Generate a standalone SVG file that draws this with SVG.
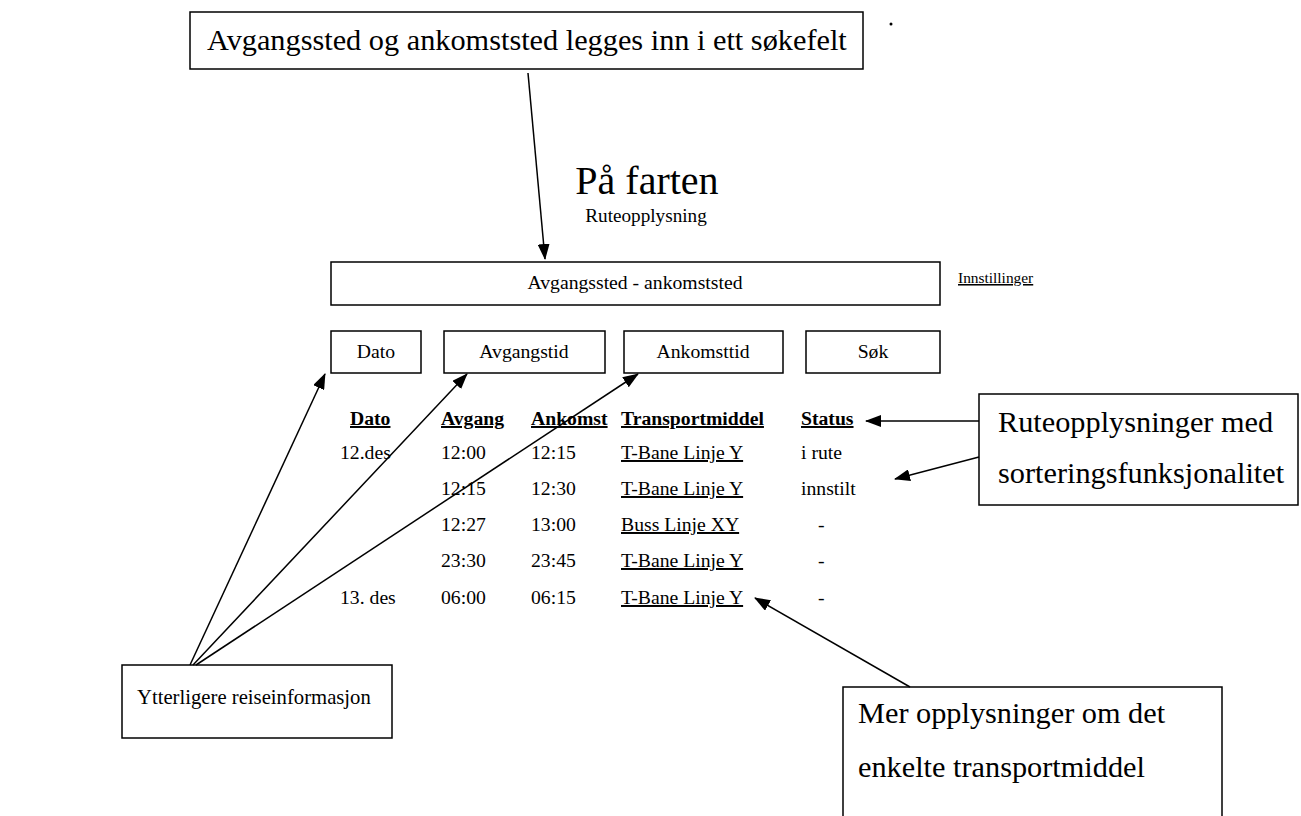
<svg xmlns="http://www.w3.org/2000/svg" width="1301" height="816" viewBox="0 0 1301 816">
<style>
.box{fill:#fff;stroke:#000;stroke-width:1.5}
.t{font-family:"Liberation Serif","Times New Roman",serif;fill:#000}
.big{font-size:30.3px}
.tb{font-size:19.7px}
.c{text-anchor:middle}
.b{font-weight:bold}
.u{text-decoration:underline}
.conn{stroke:#000;stroke-width:1.5;fill:none;marker-end:url(#ah)}
</style>
<defs>
<marker id="ah" markerUnits="userSpaceOnUse" markerWidth="16" markerHeight="12" refX="15" refY="6" orient="auto">
<path d="M0,0 L16,6 L0,12 Z" fill="#000"/>
</marker>
</defs>
<rect width="1301" height="816" fill="#fff"/>
<g id="note-top">
<rect class="box" x="190" y="12" width="673" height="57"/>
<text class="t big" x="207" y="50">Avgangssted og ankomststed legges inn i ett søkefelt</text>
</g>
<circle cx="891" cy="24" r="1.5" fill="#000"/>
<g id="title">
<text class="t c" x="647" y="194" font-size="40">På farten</text>
<text class="t c" x="646" y="222" font-size="19.2">Ruteopplysning</text>
</g>
<g id="searchfield">
<rect class="box" x="331" y="262" width="609" height="43"/>
<text class="t c tb" x="635" y="289">Avgangssted - ankomststed</text>
</g>
<g id="settings">
<text class="t u" x="958" y="283" font-size="15.4">Innstillinger</text>
</g>
<g id="btn-dato">
<rect class="box" x="331" y="331" width="90" height="42"/>
<text class="t c tb" x="376" y="358">Dato</text>
</g>
<g id="btn-avgangstid">
<rect class="box" x="444" y="331" width="161" height="42"/>
<text class="t c tb" x="524" y="358">Avgangstid</text>
</g>
<g id="btn-ankomsttid">
<rect class="box" x="624" y="331" width="159" height="42"/>
<text class="t c tb" x="703" y="358">Ankomsttid</text>
</g>
<g id="btn-sok">
<rect class="box" x="806" y="331" width="134" height="42"/>
<text class="t c tb" x="873" y="358">Søk</text>
</g>
<g id="table">
<text class="t tb b u" x="350" y="425">Dato</text>
<text class="t tb b u" x="441" y="425">Avgang</text>
<text class="t tb b u" x="531" y="425">Ankomst</text>
<text class="t tb b u" x="621" y="425">Transportmiddel</text>
<text class="t tb b u" x="801" y="425">Status</text>
<text class="t tb" x="340" y="459">12.des</text>
<text class="t tb" x="441" y="459">12:00</text>
<text class="t tb" x="531" y="459">12:15</text>
<text class="t tb u" x="621" y="459">T-Bane Linje Y</text>
<text class="t tb" x="801" y="459">i rute</text>
<text class="t tb" x="441" y="495">12:15</text>
<text class="t tb" x="531" y="495">12:30</text>
<text class="t tb u" x="621" y="495">T-Bane Linje Y</text>
<text class="t tb" x="801" y="495">innstilt</text>
<text class="t tb" x="441" y="531">12:27</text>
<text class="t tb" x="531" y="531">13:00</text>
<text class="t tb u" x="621" y="531">Buss Linje XY</text>
<text class="t tb" x="818" y="531">-</text>
<text class="t tb" x="441" y="567">23:30</text>
<text class="t tb" x="531" y="567">23:45</text>
<text class="t tb u" x="621" y="567">T-Bane Linje Y</text>
<text class="t tb" x="818" y="567">-</text>
<text class="t tb" x="340" y="604">13. des</text>
<text class="t tb" x="441" y="604">06:00</text>
<text class="t tb" x="531" y="604">06:15</text>
<text class="t tb u" x="621" y="604">T-Bane Linje Y</text>
<text class="t tb" x="818" y="604">-</text>
</g>
<g id="note-sort">
<rect class="box" x="979" y="394" width="319" height="111"/>
<text class="t big" x="998" y="432">Ruteopplysninger med</text>
<text class="t big" x="998" y="483">sorteringsfunksjonalitet</text>
</g>
<g id="note-reise">
<rect class="box" x="122" y="665" width="270" height="73"/>
<text class="t" x="137" y="704" font-size="20.7">Ytterligere reiseinformasjon</text>
</g>
<g id="note-transport">
<rect class="box" x="843" y="687" width="379" height="150"/>
<text class="t big" x="858" y="723">Mer opplysninger om det</text>
<text class="t big" x="858" y="777">enkelte transportmiddel</text>
</g>
<g id="connectors">
<line class="conn" x1="528" y1="73" x2="545" y2="259"/>
<line class="conn" x1="190" y1="665" x2="325" y2="374"/>
<line class="conn" x1="193" y1="665" x2="467" y2="374"/>
<line class="conn" x1="196" y1="665" x2="638" y2="374"/>
<line class="conn" x1="979" y1="421" x2="866" y2="421"/>
<line class="conn" x1="979" y1="457" x2="895" y2="479"/>
<line class="conn" x1="910" y1="687" x2="755" y2="598"/>
</g>
</svg>
